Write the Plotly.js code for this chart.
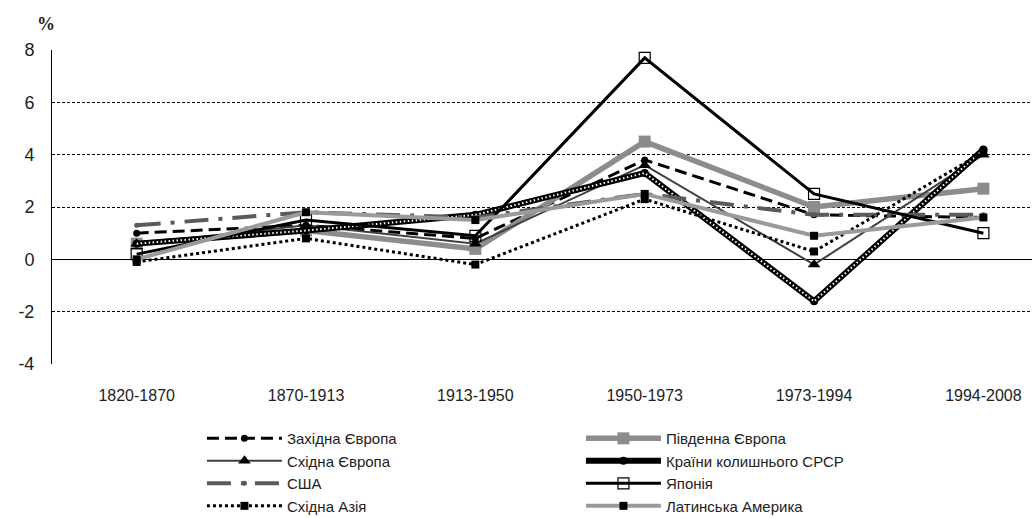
<!DOCTYPE html>
<html>
<head>
<meta charset="utf-8">
<script src="https://cdn.plot.ly/plotly-3.0.1.min.js"></script>
<style>html,body{margin:0;padding:0;background:#fff;overflow:hidden}#chart{width:1032px;height:518px}</style>
</head>
<body>
<div id="chart"></div>
<script>
// ---- data ----
const categories = ['1820-1870', '1870-1913', '1913-1950', '1950-1973', '1973-1994', '1994-2008'];
const westEurope   = [1.0, 1.3, 0.8, 3.8, 1.7, 1.6];
const southEurope  = [0.6, 1.1, 0.4, 4.5, 2.0, 2.7];
const eastEurope   = [0.6, 1.3, 0.6, 3.6, -0.2, 4.0];
const fsu          = [0.6, 1.1, 1.7, 3.3, -1.6, 4.2];
const usa          = [1.3, 1.8, 1.6, 2.5, 1.7, 1.7];
const japan        = [0.2, 1.5, 0.9, 7.7, 2.5, 1.0];
const eastAsia     = [-0.1, 0.8, -0.2, 2.3, 0.3, 4.1];
const latinAmerica = [0.0, 1.8, 1.5, 2.5, 0.9, 1.6];
const names = ['Західна Європа', 'Південна Європа', 'Східна Європа', 'Країни колишнього СРСР',
               'США', 'Японія', 'Східна Азія', 'Латинська Америка'];
const yTickVals = [-4, -2, 0, 2, 4, 6, 8];
const yTickText = ['-4', '-2', '0', '2', '4', '6', '8'];
const yRange = [-4, 8];
const xRange = [-0.5, 5.287];

const traces = [
  {y: westEurope, name: names[0], mode: 'lines+markers',
   line: {color: '#000', width: 3, dash: '12px,6px'}, marker: {symbol: 'circle', size: 7, color: '#000'}},
  {y: southEurope, name: names[1], mode: 'lines+markers',
   line: {color: '#8c8c8c', width: 5.5}, marker: {symbol: 'square', size: 12, color: '#8c8c8c'}},
  {y: eastEurope, name: names[2], mode: 'lines+markers',
   line: {color: '#404040', width: 2}, marker: {symbol: 'triangle-up', size: 11, color: '#000'}},
  {y: fsu, name: names[3], mode: 'lines+markers', legendgroup: 'fsu',
   line: {color: '#000', width: 6}, marker: {symbol: 'circle', size: 8, color: '#000'}},
  {y: fsu, name: names[3], mode: 'lines', legendgroup: 'fsu', showlegend: false, hoverinfo: 'skip',
   line: {color: '#fff', width: 2, dash: '1.5px,2.5px'}},
  {y: usa, name: names[4], mode: 'lines+markers',
   line: {color: '#5a5a5a', width: 4, dash: '24px,10px,4px,10px'}, marker: {symbol: 'circle', size: 5, color: '#5a5a5a'}},
  {y: japan, name: names[5], mode: 'lines+markers',
   line: {color: '#000', width: 3}, marker: {symbol: 'square-open', size: 11, color: '#000', line: {width: 1.2}}},
  {y: eastAsia, name: names[6], mode: 'lines+markers',
   line: {color: '#000', width: 3, dash: 'dot'}, marker: {symbol: 'square', size: 8, color: '#000'}},
  {y: latinAmerica, name: names[7], mode: 'lines+markers',
   line: {color: '#9a9a9a', width: 4}, marker: {symbol: 'square', size: 8, color: '#000'}}
].map(t => Object.assign({x: categories, type: 'scatter', cliponaxis: false}, t));

const layout = {
  width: 1032, height: 518,
  margin: {l: 52, r: 0, t: 50, b: 154, autoexpand: false},
  paper_bgcolor: '#fff', plot_bgcolor: '#fff',
  font: {family: 'Liberation Sans, Arial, sans-serif', size: 15, color: '#222'},
  showlegend: true,
  xaxis: {
    type: 'category', range: xRange, showgrid: false, showline: false, zeroline: false,
    ticks: '', ticklabelstandoff: 20, tickfont: {size: 16, color: '#222'}
  },
  xaxis2: {
    overlaying: 'x', anchor: 'free', type: 'linear', range: xRange,
    position: (0 - yRange[0]) / (yRange[1] - yRange[0]),
    showgrid: false, zeroline: false, showline: false, showticklabels: false,
    ticks: 'outside', ticklen: 5, tickwidth: 1, tickcolor: '#000',
    tickmode: 'linear', tick0: 0.5, dtick: 1
  },
  yaxis: {
    range: yRange, tickvals: yTickVals, ticktext: yTickText,
    showline: true, linecolor: '#000', linewidth: 1,
    ticks: 'outside', ticklen: 13, tickcolor: 'rgba(0,0,0,0)',
    showgrid: true, gridcolor: '#000', gridwidth: 1, griddash: '3px,2px',
    zeroline: true, zerolinecolor: '#000', zerolinewidth: 1.2,
    tickfont: {size: 18, color: '#222'}
  },
  yaxis2: {
    overlaying: 'y', anchor: 'x', side: 'left', range: yRange, tickvals: yTickVals,
    showline: false, showgrid: false, zeroline: false, showticklabels: false,
    ticks: 'outside', ticklen: 5, tickwidth: 1, tickcolor: '#000'
  },
  legend: {
    orientation: 'h', x: 0.153, xanchor: 'left', y: -0.185, yanchor: 'top',
    entrywidth: 289, entrywidthmode: 'pixels', itemwidth: 75,
    font: {size: 15, color: '#222'}, bgcolor: 'rgba(0,0,0,0)', tracegroupgap: 0
  },
  annotations: [{
    text: '<b>%</b>', xref: 'paper', yref: 'paper', x: -0.006, y: 1.083,
    xanchor: 'center', yanchor: 'middle', showarrow: false,
    font: {family: 'Liberation Serif, Times New Roman, serif', size: 18, color: '#222'}
  }]
};

Plotly.newPlot('chart', traces, layout, {staticPlot: true, displayModeBar: false});
</script>
</body>
</html>
